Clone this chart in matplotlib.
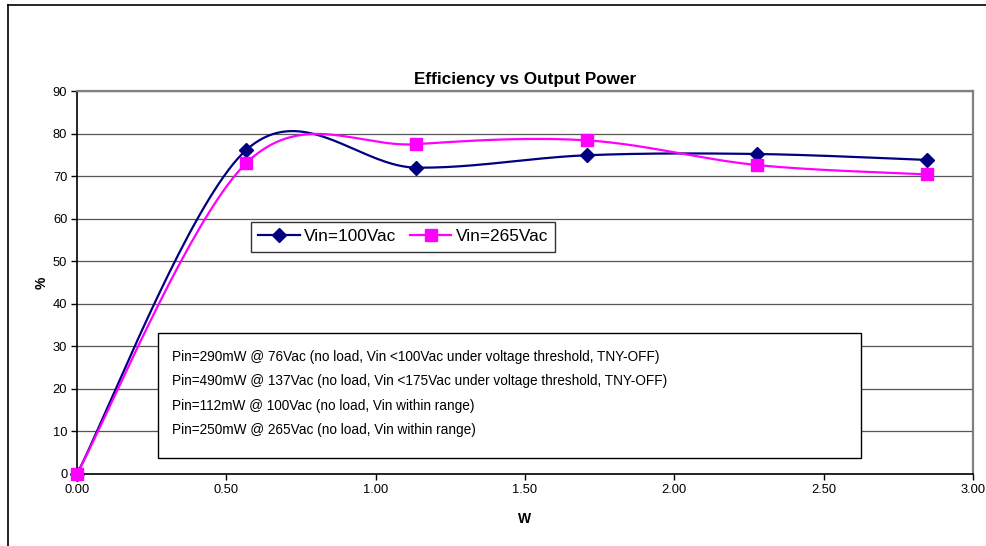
import matplotlib.pyplot as plt
import numpy as np
from matplotlib.lines import Line2D
from matplotlib.patches import Rectangle

plt.rcParams['font.family'] = ['Liberation Sans', 'DejaVu Sans']

# output power (W) and efficiency (%) for the two input voltages
pout_100 = [0.0, 0.566, 1.135, 1.707, 2.277, 2.846]
eff_100 = [0.0, 76.1, 72.0, 74.9, 75.2, 73.8]
pout_265 = [0.0, 0.566, 1.135, 1.707, 2.277, 2.846]
eff_265 = [0.0, 73.0, 77.5, 78.4, 72.6, 70.4]

notes = [
    "Pin=290mW @ 76Vac (no load, Vin <100Vac under voltage threshold, TNY-OFF)",
    "Pin=490mW @ 137Vac (no load, Vin <175Vac under voltage threshold, TNY-OFF)",
    "Pin=112mW @ 100Vac (no load, Vin within range)",
    "Pin=250mW @ 265Vac (no load, Vin within range)",
]


def smooth(x, y, n=40):
    # spreadsheet-style smoothed line: cubic bezier with catmull-rom control points
    p = np.column_stack([x, y])
    ext = np.vstack([p[0], p, p[-1]])
    t = np.linspace(0, 1, n)[:, None]
    out = []
    for i in range(len(p) - 1):
        p0, p1 = ext[i + 1], ext[i + 2]
        c1 = p0 + (ext[i + 2] - ext[i]) / 6
        c2 = p1 - (ext[i + 3] - ext[i + 1]) / 6
        seg = ((1 - t) ** 3 * p0 + 3 * (1 - t) ** 2 * t * c1
               + 3 * (1 - t) * t ** 2 * c2 + t ** 3 * p1)
        out.append(seg)
    out = np.vstack(out)
    return out[:, 0], out[:, 1]


fig = plt.figure(figsize=(9.86, 5.46), dpi=100)
ax = fig.add_axes([77 / 986, 1 - 474 / 546, 896 / 986, 383 / 546])

navy = '#000080'
pink = '#ff00ff'

sx, sy = smooth(pout_100, eff_100)
ax.plot(sx, sy, color=navy, lw=1.6, zorder=3)
ax.plot(pout_100, eff_100, ls='none', marker='D', ms=7.5, color=navy,
        zorder=4, clip_on=False)
sx, sy = smooth(pout_265, eff_265)
ax.plot(sx, sy, color=pink, lw=1.6, zorder=5)
ax.plot(pout_265, eff_265, ls='none', marker='s', ms=8, color=pink,
        zorder=6, clip_on=False)

ax.set_xlim(0, 3)
ax.set_ylim(0, 90)
ax.set_xticks(np.arange(0, 3.01, 0.5))
ax.set_xticklabels([f"{v:.2f}" for v in np.arange(0, 3.01, 0.5)])
ax.set_yticks(range(0, 91, 10))
ax.tick_params(labelsize=9.3, length=4, width=1, color='black', pad=3)
ax.yaxis.grid(True, color='#555555', lw=0.9)
ax.set_axisbelow(True)
for s in ['left', 'bottom']:
    ax.spines[s].set_color('black')
    ax.spines[s].set_linewidth(1.2)
for s in ['top', 'right']:
    ax.spines[s].set_color('#808080')
    ax.spines[s].set_linewidth(1.6)

ax.set_title("Efficiency vs Output Power", fontsize=12.3, fontweight='bold', pad=5)
ax.set_xlabel("W", fontsize=10, fontweight='bold', labelpad=12)
ax.set_ylabel("%", fontsize=10, fontweight='bold', labelpad=3)

handles = [
    Line2D([], [], color=navy, lw=1.6, marker='D', ms=7.5, label='Vin=100Vac'),
    Line2D([], [], color=pink, lw=1.6, marker='s', ms=8, label='Vin=265Vac'),
]
leg = fig.legend(handles=handles, loc='upper left',
                 bbox_to_anchor=(251 / 986, 1 - 222 / 546), ncol=2,
                 fontsize=12.4, frameon=True, fancybox=False, edgecolor='black',
                 borderpad=0.42, handlelength=2.4, handletextpad=0.25,
                 columnspacing=0.8, borderaxespad=0)
leg.get_frame().set_linewidth(1.0)

# note box with one text line per entry
fig.patches.append(Rectangle((158 / 986, 1 - 458 / 546), 703 / 986, 125 / 546,
                             transform=fig.transFigure, facecolor='white',
                             edgecolor='black', lw=1.0, zorder=10))
for i, line in enumerate(notes):
    fig.text(172 / 986, 1 - (357 + 24.4 * i) / 546, line, fontsize=9.8,
             va='center', ha='left', zorder=11)

# outer chart frame
fig.lines.append(Line2D([8 / 986, 8 / 986], [0, 1 - 5 / 546],
                        transform=fig.transFigure, color='black', lw=1.2))
fig.lines.append(Line2D([8 / 986, 1], [1 - 5 / 546, 1 - 5 / 546],
                        transform=fig.transFigure, color='black', lw=1.2))

fig.savefig('out.png', dpi=100)
